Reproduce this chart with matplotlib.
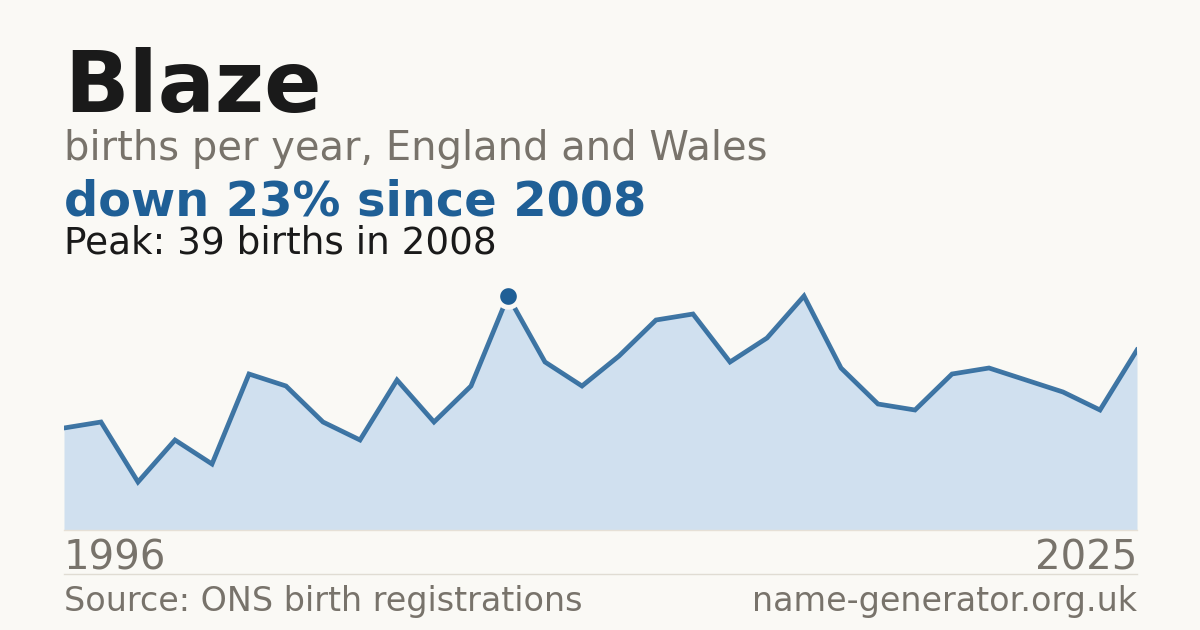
import matplotlib.pyplot as plt

years = list(range(1996, 2026))
births = [17, 18, 8, 15, 11, 26, 24, 18, 15, 25, 18, 24, 39, 28, 24, 29,
          35, 36, 28, 32, 39, 27, 21, 20, 26, 27, 25, 23, 20, 30]
peak_year = 2008
peak_value = 39

bg = '#faf9f5'
blue = '#1f5f96'
gray = '#78736b'

fig = plt.figure(figsize=(12, 6.3), dpi=100, facecolor=bg)

# chart area in pixel terms: x 64..1137, baseline at y=530
ax = fig.add_axes([64/1200, 100/630, 1073/1200, 250/630])
ax.set_facecolor(bg)
ax.fill_between(years, births, 0, color='#d0e0ef', lw=0)
ax.plot(years, births, color=blue, alpha=0.85, lw=3.4, solid_joinstyle='miter')
ax.plot([peak_year], [peak_value], 'o', ms=15.5, color=blue,
        mec=bg, mew=3.5, zorder=5)
ax.set_xlim(years[0], years[-1])
ax.set_ylim(0, peak_value * 250 / 234)
ax.axis('off')

# baseline and footer rule
fig.add_artist(plt.Line2D([64/1200, 1137/1200], [100/630, 100/630],
                          color='#e6e0d6', lw=1))
fig.add_artist(plt.Line2D([64/1200, 1137/1200], [56/630, 56/630],
                          color='#e0dcd3', lw=1))

x0 = 64/1200
def y(px):
    return 1 - px/630

fig.text(x0, y(112), 'Blaze', fontsize=61, fontweight='bold',
         color='#1a1a1a', va='baseline')
fig.text(x0, y(160), 'births per year, England and Wales', fontsize=28.8,
         color=gray, va='baseline')
fig.text(x0, y(215), 'down 23% since 2008', fontsize=34.5, fontweight='bold',
         color=blue, va='baseline')
fig.text(x0, y(254), 'Peak: 39 births in 2008', fontsize=26.9,
         color='#1a1a1a', va='baseline')

fig.text(x0, y(569), str(years[0]), fontsize=29, color=gray, va='baseline')
fig.text(1137/1200, y(569), str(years[-1]), fontsize=29, color=gray,
         va='baseline', ha='right')
fig.text(x0, y(611), 'Source: ONS birth registrations', fontsize=24,
         color=gray, va='baseline')
fig.text(1137/1200, y(611), 'name-generator.org.uk', fontsize=24,
         color=gray, va='baseline', ha='right')

fig.savefig('out.png', dpi=100, facecolor=bg)
